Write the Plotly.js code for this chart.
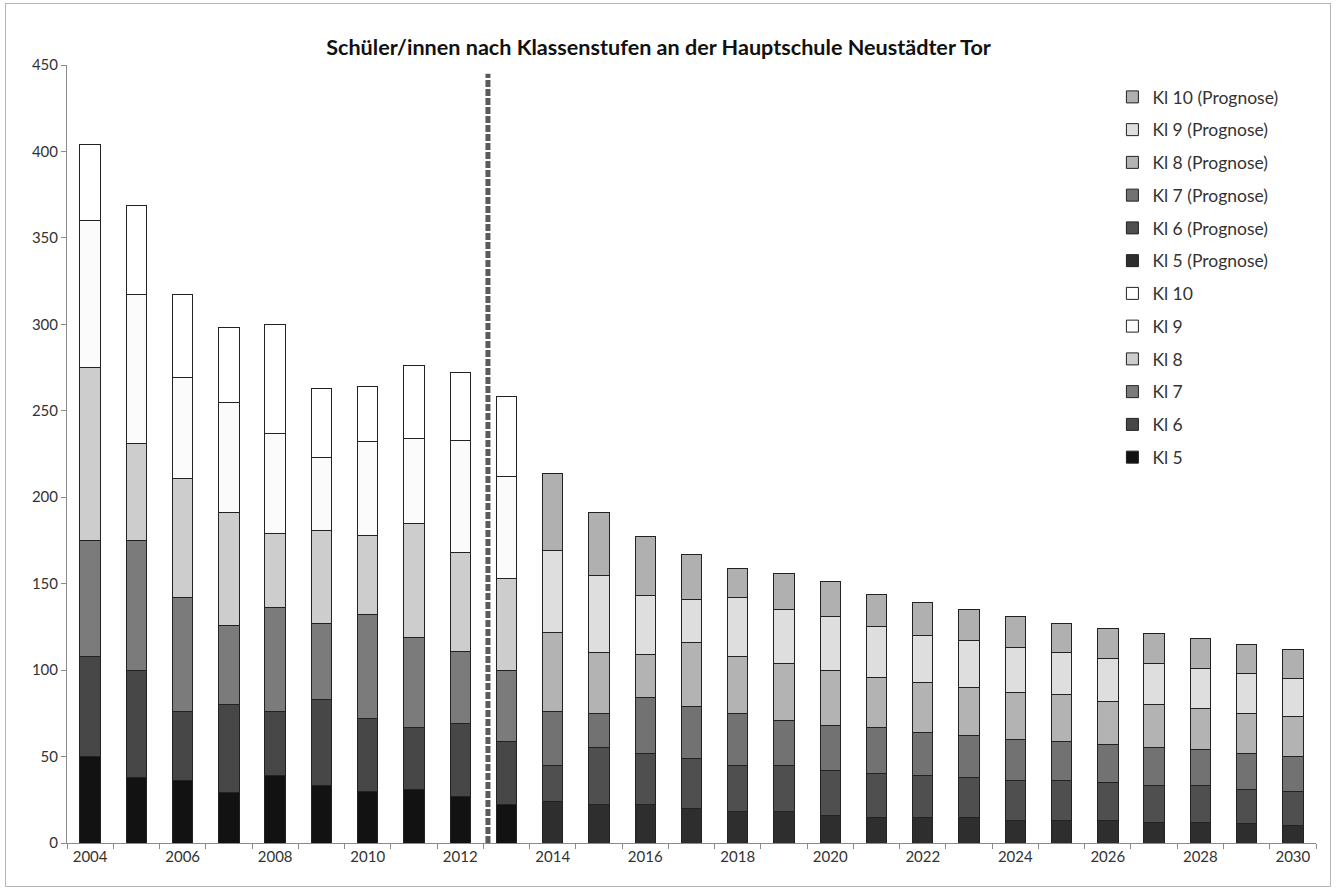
<!DOCTYPE html>
<html>
<head>
<meta charset="utf-8">
<script src="https://cdn.plot.ly/plotly-3.0.1.min.js"></script>
<style>
  html, body { margin: 0; padding: 0; background: #fff; }
  #frame { position: absolute; left: 5px; top: 3px; width: 1326px; height: 884px; border: 1px solid #b5b5b5; box-sizing: border-box; }
  #chart { position: absolute; left: 0; top: 0; width: 1344px; height: 891px; }
</style>
</head>
<body>
<div id="frame"></div>
<div id="chart"></div>
<script>
// ---- data ----
const actualYears   = [2004, 2005, 2006, 2007, 2008, 2009, 2010, 2011, 2012, 2013];
const forecastYears = [2014, 2015, 2016, 2017, 2018, 2019, 2020, 2021, 2022, 2023, 2024, 2025, 2026, 2027, 2028, 2029, 2030];

const kl5  = [50, 38, 36, 29, 39, 33, 30, 31, 27, 22];
const kl6  = [58, 62, 40, 51, 37, 50, 42, 36, 42, 37];
const kl7  = [67, 75, 66, 46, 60, 44, 60, 52, 42, 41];
const kl8  = [100, 56, 69, 65, 43, 54, 46, 66, 57, 53];
const kl9  = [85, 86, 58, 64, 58, 42, 54, 49, 65, 59];
const kl10 = [44, 52, 48, 43, 63, 40, 32, 42, 39, 46];

const kl5P  = [24, 22, 22, 20, 18, 18, 16, 15, 15, 15, 13, 13, 13, 12, 12, 11, 10];
const kl6P  = [21, 33, 30, 29, 27, 27, 26, 25, 24, 23, 23, 23, 22, 21, 21, 20, 20];
const kl7P  = [31, 20, 32, 30, 30, 26, 26, 27, 25, 24, 24, 23, 22, 22, 21, 21, 20];
const kl8P  = [46, 35, 25, 37, 33, 33, 32, 29, 29, 28, 27, 27, 25, 25, 24, 23, 23];
const kl9P  = [47, 45, 34, 25, 34, 31, 31, 29, 27, 27, 26, 24, 25, 24, 23, 23, 22];
const kl10P = [45, 36, 34, 26, 17, 21, 20, 19, 19, 18, 18, 17, 17, 17, 17, 17, 17];

const seriesNames = ['Kl 5', 'Kl 6', 'Kl 7', 'Kl 8', 'Kl 9', 'Kl 10'];
const forecastSuffix = ' (Prognose)';
const forecastStart = 2012.6;   // dashed separator between actual and forecast
const separatorTop = 445;

const titleText = 'Schüler/innen nach Klassenstufen an der Hauptschule Neustädter Tor';

// ---- styles ----
const actualColors   = ['#121212', '#474747', '#7b7b7b', '#cdcdcd', '#fbfbfb', '#ffffff'];
const forecastColors = ['#2e2e2e', '#4f4f4f', '#727272', '#b3b3b3', '#dedede', '#b0b0b0'];

const actualSets = [kl5, kl6, kl7, kl8, kl9, kl10];
const forecastSets = [kl5P, kl6P, kl7P, kl8P, kl9P, kl10P];

const FONT = 'Lato, "Open Sans", "DejaVu Sans", sans-serif';
const traces = [];
actualSets.forEach((vals, i) => {
  traces.push({
    type: 'bar', x: actualYears, y: vals, name: seriesNames[i],
    width: 0.44,
    marker: { color: actualColors[i], line: { color: '#222', width: 1 } },
    legendrank: 12 - i, legendgroup: 'a' + i
  });
});
forecastSets.forEach((vals, i) => {
  traces.push({
    type: 'bar', x: forecastYears, y: vals, name: seriesNames[i] + forecastSuffix,
    width: 0.44,
    marker: { color: forecastColors[i], line: { color: '#222', width: 1 } },
    legendrank: 6 - i, legendgroup: 'p' + i
  });
});

const layout = {
  width: 1344, height: 891,
  paper_bgcolor: 'rgba(0,0,0,0)', plot_bgcolor: 'rgba(0,0,0,0)',
  margin: { l: 67, r: 28, t: 65, b: 48 },
  barmode: 'stack',
  font: { family: FONT, size: 15, color: '#333' },
  title: {
    text: '<b>' + titleText + '</b>',
    font: { family: FONT, size: 21.6, color: '#111' },
    xref: 'container', x: 0.49, xanchor: 'center',
    yref: 'container', y: 0.947, yanchor: 'middle'
  },
  xaxis: {
    range: [2003.5, 2030.5],
    tickmode: 'linear', tick0: 2004, dtick: 2,
    ticks: '', showgrid: false, zeroline: false,
    showline: true, linecolor: '#8a8a8a', linewidth: 1,
    tickfont: { family: FONT, size: 15, color: '#333' },
    minor: { tick0: 2003.5, dtick: 1, ticks: 'outside', ticklen: 5, tickcolor: '#8a8a8a', showgrid: false }
  },
  yaxis: {
    range: [0, 450], tickmode: 'linear', tick0: 0, dtick: 50,
    ticks: 'outside', ticklen: 5, tickcolor: '#8a8a8a',
    showgrid: false, zeroline: false,
    showline: true, linecolor: '#8a8a8a', linewidth: 1,
    tickfont: { family: FONT, size: 15, color: '#333' }
  },
  legend: {
    x: 0.837, xanchor: 'left', y: 0.982, yanchor: 'top',
    bgcolor: 'rgba(0,0,0,0)',
    font: { family: FONT, size: 17.5, color: '#333' },
    tracegroupgap: 7,
    traceorder: 'grouped'
  },
  shapes: [{
    type: 'line', xref: 'x', yref: 'y',
    x0: forecastStart, x1: forecastStart, y0: 0, y1: separatorTop,
    line: { color: '#5a5a5a', width: 5, dash: '7px,2px' }
  }],
  showlegend: true
};

Plotly.newPlot('chart', traces, layout, { displayModeBar: false, staticPlot: true });
</script>
</body>
</html>
